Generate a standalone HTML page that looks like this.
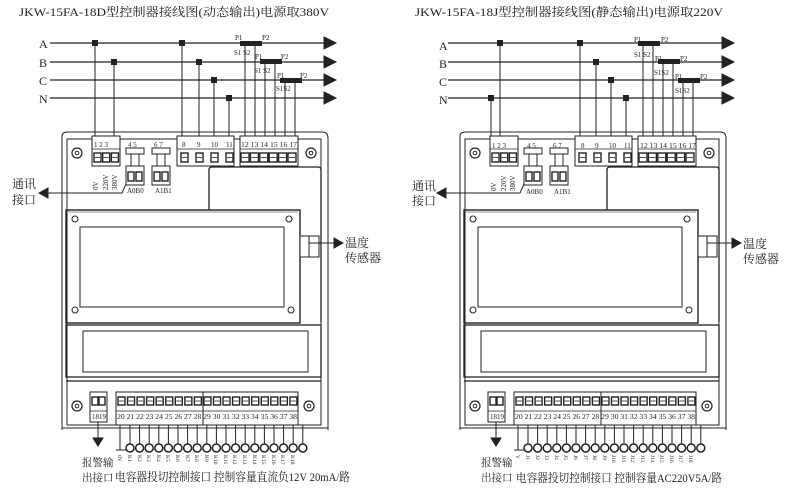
<!DOCTYPE html>
<html><head><meta charset="utf-8"><style>
html,body{margin:0;padding:0;background:#fff;}
svg{display:block;}
text{font-family:"Liberation Serif","Noto Serif CJK SC","Noto Sans CJK SC",serif;fill:#222;}
.t{font-size:12px;}
.s{font-size:7px;}
.m{font-size:12px;}
.a{font-size:10.5px;}
</style></head><body>
<div style="position:relative;width:800px;height:494px;overflow:hidden">
<svg id="sv" width="800" height="494" viewBox="0 0 800 494" xmlns="http://www.w3.org/2000/svg" style="position:absolute;left:0;top:0">
<g id="shapes"></g>
<!-- Left texts -->
<text class="t" x="19" y="16" textLength="310" lengthAdjust="spacingAndGlyphs">JKW-15FA-18D型控制器接线图(动态输出)电源取380V</text>
<text class="m" x="39" y="48">A</text><text class="m" x="39" y="67">B</text><text class="m" x="39" y="85">C</text><text class="m" x="39" y="103">N</text>
<text class="s" x="235" y="40">P1</text><text class="s" x="262" y="40">P2</text><text class="s" x="234" y="55">S1 S2</text>
<text class="s" x="255" y="59">P1</text><text class="s" x="281" y="59">P2</text><text class="s" x="254" y="73">S1 S2</text>
<text class="s" x="277" y="78">P1</text><text class="s" x="300" y="78">P2</text><text class="s" x="276" y="91">S1S2</text>
<text class="s" x="94" y="147">1 2 3</text><text class="s" x="128" y="147">4 5</text><text class="s" x="154" y="147">6 7</text>
<text class="s" x="182" y="147">8</text><text class="s" x="197" y="147">9</text><text class="s" x="211" y="147">10</text><text class="s" x="226" y="147">11</text>
<text class="s" x="241" y="147" textLength="56" lengthAdjust="spacingAndGlyphs">12 13 14 15 16 17</text>
<text class="s" x="127" y="193">A0B0</text><text class="s" x="155" y="193">A1B1</text>
<text class="s" transform="translate(98,190) rotate(-90)">0V</text>
<text class="s" transform="translate(108,190) rotate(-90)">220V</text>
<text class="s" transform="translate(117,190) rotate(-90)">380V</text>
<text class="m" x="12" y="188">通讯</text><text class="m" x="12" y="204">接口</text>
<text class="m" x="345" y="247">温度</text><text class="m" x="345" y="262">传感器</text>
<text class="s" x="92" y="419">1819</text>
<text class="s" x="117" y="419" textLength="180" lengthAdjust="spacingAndGlyphs">20 21 22 23 24 25 26 27 28 29 30 31 32 33 34 35 36 37 38</text>
<text class="a" x="82" y="466">报警输</text><text class="a" x="82" y="481">出接口</text>
<text class="t" x="115" y="481" textLength="235" lengthAdjust="spacingAndGlyphs">电容器投切控制接口 控制容量直流负12V 20mA/路</text>
<!-- Right texts -->
<text class="t" x="415" y="16" textLength="308" lengthAdjust="spacingAndGlyphs">JKW-15FA-18J型控制器接线图(静态输出)电源取220V</text>
<text class="m" x="439" y="50">A</text><text class="m" x="439" y="68">B</text><text class="m" x="439" y="86">C</text><text class="m" x="439" y="104">N</text>
<text class="s" x="634" y="42">P1</text><text class="s" x="661" y="42">P2</text><text class="s" x="634" y="57">S1 S2</text>
<text class="s" x="655" y="61">P1</text><text class="s" x="680" y="61">P2</text><text class="s" x="654" y="75">S1S2</text>
<text class="s" x="675" y="79">P1</text><text class="s" x="700" y="79">P2</text><text class="s" x="675" y="93">S1S2</text>
<text class="s" x="492" y="148">1 2 3</text><text class="s" x="527" y="148">4 5</text><text class="s" x="553" y="148">6 7</text>
<text class="s" x="581" y="148">8</text><text class="s" x="595" y="148">9</text><text class="s" x="609" y="148">10</text><text class="s" x="624" y="148">11</text>
<text class="s" x="640" y="148" textLength="56" lengthAdjust="spacingAndGlyphs">12 13 14 15 16 17</text>
<text class="s" x="526" y="194">A0B0</text><text class="s" x="554" y="194">A1B1</text>
<text class="s" transform="translate(496,191) rotate(-90)">0V</text>
<text class="s" transform="translate(506,191) rotate(-90)">220V</text>
<text class="s" transform="translate(515,191) rotate(-90)">380V</text>
<text class="m" x="412" y="190">通讯</text><text class="m" x="412" y="205">接口</text>
<text class="m" x="743" y="248">温度</text><text class="m" x="743" y="263">传感器</text>
<text class="s" x="490" y="419">1819</text>
<text class="s" x="515" y="419" textLength="180" lengthAdjust="spacingAndGlyphs">20 21 22 23 24 25 26 27 28 29 30 31 32 33 34 35 36 37 38</text>
<text class="a" x="481" y="466">报警输</text><text class="a" x="481" y="481">出接口</text>
<text class="t" x="516" y="482" textLength="206" lengthAdjust="spacingAndGlyphs">电容器投切控制接口 控制容量AC220V5A/路</text>
<g font-family="Liberation Serif,serif" font-size="5.5" fill="#333">
<text transform="translate(118,455) rotate(90)">0V</text><text transform="translate(128,455) rotate(90)">K1</text><text transform="translate(138,455) rotate(90)">K2</text><text transform="translate(147,455) rotate(90)">K3</text><text transform="translate(157,455) rotate(90)">K4</text><text transform="translate(166,455) rotate(90)">K5</text><text transform="translate(176,455) rotate(90)">K6</text><text transform="translate(186,455) rotate(90)">K7</text><text transform="translate(195,455) rotate(90)">K8</text><text transform="translate(205,455) rotate(90)">K9</text><text transform="translate(214,455) rotate(90)">K10</text><text transform="translate(224,455) rotate(90)">K11</text><text transform="translate(233,455) rotate(90)">K12</text><text transform="translate(243,455) rotate(90)">K13</text><text transform="translate(253,455) rotate(90)">K14</text><text transform="translate(262,455) rotate(90)">K15</text><text transform="translate(272,455) rotate(90)">K16</text><text transform="translate(281,455) rotate(90)">K17</text><text transform="translate(291,455) rotate(90)">K18</text>
<text transform="translate(516,455) rotate(90)">V</text><text transform="translate(526,455) rotate(90)">J1</text><text transform="translate(536,455) rotate(90)">J2</text><text transform="translate(545,455) rotate(90)">J3</text><text transform="translate(555,455) rotate(90)">J4</text><text transform="translate(564,455) rotate(90)">J5</text><text transform="translate(574,455) rotate(90)">J6</text><text transform="translate(584,455) rotate(90)">J7</text><text transform="translate(593,455) rotate(90)">J8</text><text transform="translate(603,455) rotate(90)">J9</text><text transform="translate(612,455) rotate(90)">J10</text><text transform="translate(622,455) rotate(90)">J11</text><text transform="translate(631,455) rotate(90)">J12</text><text transform="translate(641,455) rotate(90)">J13</text><text transform="translate(651,455) rotate(90)">J14</text><text transform="translate(660,455) rotate(90)">J15</text><text transform="translate(670,455) rotate(90)">J16</text><text transform="translate(679,455) rotate(90)">J17</text><text transform="translate(689,455) rotate(90)">J18</text>
</g>
</svg>
</div>
<script>
var NS="http://www.w3.org/2000/svg",G=document.getElementById("shapes");
function el(t,a,p){var e=document.createElementNS(NS,t);for(var k in a)e.setAttribute(k,a[k]);(p||G).appendChild(e);return e;}
function L(x1,y1,x2,y2,w){el("line",{x1:x1,y1:y1,x2:x2,y2:y2,stroke:"#222","stroke-width":w||1});}
function R(x,y,w,h,f,sw){el("rect",{x:x,y:y,width:w,height:h,fill:f||"none",stroke:"#222","stroke-width":sw||1});}
function C(x,y,r,f,sw){el("circle",{cx:x,cy:y,r:r,fill:f||"#fff",stroke:"#222","stroke-width":sw||1.3});}
function P(d,f,sw){el("path",{d:d,fill:f||"none",stroke:"#222","stroke-width":sw||1});}
function draw(o,right){
 var ys=[43,62,80,98];
 ys.forEach(function(y){L(o+50,y,o+326,y,1.2);P("M"+(o+324)+" "+(y-6)+"L"+(o+336)+" "+y+"L"+(o+324)+" "+(y+6)+"Z","#222");});
 var dots=right?[[102,43],[93,98],[182,43],[198,62],[213,80],[228,98]]:[[95,43],[114,62],[182,43],[199,62],[214,80],[229,98]];
 var bx=right?[102,93]:[95,114];
 L(o+bx[0],43,o+bx[0],136);L(o+bx[1],dots[1][1],o+bx[1],136);
 L(o+182,43,o+182,136);L(o+dots[3][0],62,o+dots[3][0],136);L(o+dots[4][0],80,o+dots[4][0],136);L(o+dots[5][0],98,o+dots[5][0],136);
 dots.forEach(function(d){el("rect",{x:o+d[0]-3,y:d[1]-3,width:6,height:6,fill:"#222"});});
 [[240,43],[260,61],[280,80]].forEach(function(c,i){el("rect",{x:o+c[0],y:c[1]-2,width:22,height:5,fill:"#222"});
   L(o+c[0]+5,c[1]+3,o+c[0]+5,136);L(o+c[0]+15,c[1]+3,o+c[0]+15,136);});
 P("M"+(o+62)+" 430 L"+(o+62)+" 136 Q"+(o+62)+" 132 "+(o+68)+" 132 L"+(o+322)+" 132 Q"+(o+328)+" 132 "+(o+328)+" 138 L"+(o+328)+" 430","none",1);
 P("M"+(o+62)+" 428 L"+(o+328)+" 428","none",1);
 R(o+67,139,254,286,"none",1);
 [[77,153],[311,153],[77,406],[309,406]].forEach(function(s){C(o+s[0],s[1],5,"#fff",1.2);C(o+s[0],s[1],1.8,"#fff",1);});
 R(o+92,136,28,30,"#fff");L(o+92,149,o+120,149,0.8);
 for(var i=0;i<3;i++){R(o+94+i*8.7,153,7,9,"#fff",1.4);L(o+95+i*8.7,157.5,o+100+i*8.7,157.5,0.8);}
 [126,152].forEach(function(x){R(o+x,148,18,6,"#fff");L(o+x+5,154,o+x+5,166);L(o+x+13,154,o+x+13,166);
   R(o+x,166,18,19,"#fff");R(o+x+2,172,6,9,"#fff",1.4);R(o+x+10,172,6,9,"#fff",1.4);});
 R(o+177,136,57,30,"#fff");L(o+177,149,o+234,149,0.8);
 [181,196,211,226].forEach(function(x){R(o+x,153,7,9,"#fff",1.4);L(o+x+1,157.5,o+x+6,157.5,0.8);});
 R(o+240,136,58,30,"#fff");L(o+240,149,o+298,149,0.8);
 for(i=0;i<6;i++){R(o+241+i*9.4,153,8,9,"#fff",1.4);L(o+242+i*9.4,157.5,o+248+i*9.4,157.5,0.8);}
 P("M"+(o+126)+" 184 L"+(o+122)+" 193 L"+(o+48)+" 193","none",1);
 P("M"+(o+48)+" 188 L"+(o+39)+" 193 L"+(o+48)+" 198Z","#222");
 P("M"+(o+209)+" 210 L"+(o+209)+" 170 Q"+(o+209)+" 167 "+(o+212)+" 167 L"+(o+318)+" 167 Q"+(o+321)+" 167 "+(o+321)+" 170 L"+(o+321)+" 322","none",1.3);
 R(o+66,210,234,113,"none",1.4);
 P("M"+(o+68)+" 212 L"+(o+298)+" 212","none",0.6);
 R(o+80,227,204,80,"none",1);
 [[75,219],[289,219],[75,310],[291,310]].forEach(function(s){C(o+s[0],s[1],3,"#fff",1);});
 R(o+300,236,19,21,"#fff",1);R(o+300,236,9,21,"none",1);
 L(o+309,243,o+335,243);P("M"+(o+334)+" 238 L"+(o+343)+" 243 L"+(o+334)+" 248Z","#222");
 R(o+66,325,255,52,"none",1.3);R(o+83,331,225,41,"none",1);
 L(o+66,381,o+321,381,1.2);
 R(o+90,392,17,30,"#fff");L(o+90,411,o+107,411,0.8);
 R(o+92,397,6,8,"#fff",1.4);R(o+99,397,6,8,"#fff",1.4);
 R(o+116,392,182,33,"#fff");L(o+116,411,o+298,411,0.8);L(o+203,392,o+203,425,1);
 for(i=0;i<19;i++){var x=o+118+i*9.55;R(x,397,7,8,"#fff",1.4);L(x+1,401,x+6,401,0.8);}
 L(o+98,422,o+98,440);P("M"+(o+93)+" 438 L"+(o+98)+" 446 L"+(o+103)+" 438Z","#222");
 L(o+120,425,o+120,450);L(o+116,450,o+128,450);
 for(i=0;i<19;i++){var x2=o+130+i*9.6;L(x2,425,x2,444);C(x2,448,4,"#fff",1.5);}
}
draw(0,false);draw(398,true);
</script>
</body></html>
